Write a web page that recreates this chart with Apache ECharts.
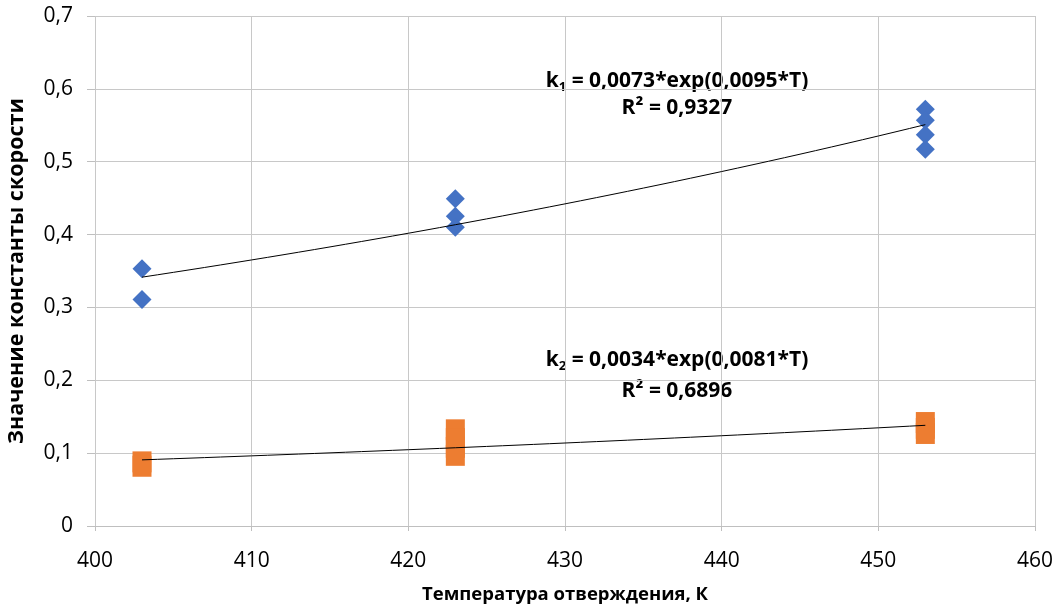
<!DOCTYPE html>
<html><head><meta charset="utf-8">
<script src="https://cdn.jsdelivr.net/npm/echarts@6/dist/echarts.min.js"></script>
<style>html,body{margin:0;padding:0;background:#fff}#c{width:1059px;height:610px}</style>
</head><body><div id="c"></div>
<script>
const k1T = [403, 403, 423, 423, 423, 453, 453, 453, 453];
const k1V = [0.353, 0.311, 0.449, 0.425, 0.410, 0.572, 0.557, 0.537, 0.517];
const k2T = [403, 403, 423, 423, 423, 423, 453, 453, 453];
const k2V = [0.088, 0.082, 0.132, 0.120, 0.108, 0.097, 0.142, 0.134, 0.127];
const xTicks = [400, 410, 420, 430, 440, 450, 460];
const yTicks = [0, 0.1, 0.2, 0.3, 0.4, 0.5, 0.6, 0.7];
const eq1 = ['k', '1', ' = 0,0073*exp(0,0095*T)', 'R² = 0,9327'];
const eq2 = ['k', '2', ' = 0,0034*exp(0,0081*T)', 'R² = 0,6896'];
const xTitle = 'Температура отверждения, К';
const yTitle = 'Значение константы скорости';

function expFit(xs, ys) {
  const n = xs.length; let sx=0, sy=0, sxx=0, sxy=0;
  for (let i=0;i<n;i++){const l=Math.log(ys[i]); sx+=xs[i]; sy+=l; sxx+=xs[i]*xs[i]; sxy+=xs[i]*l;}
  const b=(n*sxy-sx*sy)/(n*sxx-sx*sx); const a=(sy-b*sx)/n;
  const pts=[]; const x0=Math.min(...xs), x1=Math.max(...xs);
  for (let t=x0;t<=x1;t+=1) pts.push([t, Math.exp(a+b*t)]);
  return pts;
}
const fmt = v => String(+v.toFixed(2)).replace('.', ',');
const FONT = '"Open Sans"';
const chart = echarts.init(document.getElementById('c'));
const richEq = {b:{font:'bold 21px '+FONT,fill:'#000',lineHeight:26},
  s:{font:'bold 13px '+FONT,fill:'#000',lineHeight:26,padding:[12,0,0,0]}};
chart.setOption({
  animation:false,
  grid:{left:95,right:24,top:16,bottom:84,containLabel:false,outerBoundsMode:'none'},
  xAxis:{type:'value',min:400,max:460,interval:10,
    name:xTitle,nameLocation:'middle',nameGap:59,
    nameTextStyle:{fontFamily:'Open Sans',fontWeight:'bold',fontSize:18.5,color:'#000'},
    axisLine:{show:true,lineStyle:{color:'#bfbfbf'}},axisTick:{show:true,inside:false,length:5,lineStyle:{color:'#bfbfbf'}},
    axisLabel:{fontFamily:'Open Sans',fontSize:21,color:'#000',margin:25},
    splitLine:{show:true,lineStyle:{color:'#c8c8c8'}}},
  yAxis:{type:'value',min:0,max:0.7,interval:0.1,
    name:yTitle,nameLocation:'middle',nameGap:67,
    nameTextStyle:{fontFamily:'Open Sans',fontWeight:'bold',fontSize:21.5,color:'#000'},
    axisLine:{show:false},axisTick:{show:true,length:8,lineStyle:{color:'#bfbfbf'}},
    axisLabel:{fontFamily:'Open Sans',fontSize:21,color:'#000',margin:22,formatter:fmt},
    splitLine:{show:true,lineStyle:{color:'#c8c8c8'}}},
  series:[
    {type:'scatter',symbol:'diamond',symbolSize:[19,19],itemStyle:{color:'#4472C4',opacity:1},
     data:k1T.map((t,i)=>[t,k1V[i]]),z:3},
    {type:'scatter',symbol:'rect',symbolSize:[19,21],itemStyle:{color:'#ED7D31',opacity:1},
     data:k2T.map((t,i)=>[t,k2V[i]]),z:3},
    {type:'line',data:expFit(k1T,k1V),showSymbol:false,lineStyle:{color:'#000',width:1},z:4},
    {type:'line',data:expFit(k2T,k2V),showSymbol:false,lineStyle:{color:'#000',width:1},z:4}
  ],
  graphic:[
    {type:'text',x:677,y:68,style:{text:'{b|'+eq1[0]+'}{s|'+eq1[1]+'}{b|'+eq1[2]+'}',rich:richEq,align:'center'}},
    {type:'text',x:677,y:98,style:{text:eq1[3],font:'bold 21px '+FONT,fill:'#000',align:'center'}},
    {type:'text',x:677,y:347,style:{text:'{b|'+eq2[0]+'}{s|'+eq2[1]+'}{b|'+eq2[2]+'}',rich:richEq,align:'center'}},
    {type:'text',x:677,y:381,style:{text:eq2[3],font:'bold 21px '+FONT,fill:'#000',align:'center'}}
  ]
});
</script></body></html>
